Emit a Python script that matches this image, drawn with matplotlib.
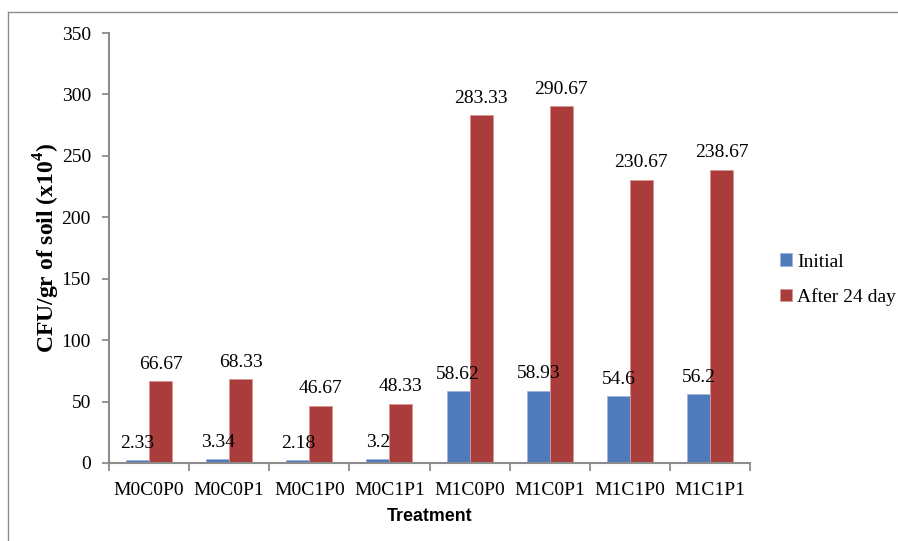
import numpy as np
import matplotlib
matplotlib.use("Agg")
import matplotlib.pyplot as plt
from matplotlib.lines import Line2D

treatments = ["M0C0P0", "M0C0P1", "M0C1P0", "M0C1P1", "M1C0P0", "M1C0P1", "M1C1P0", "M1C1P1"]
initial = [2.33, 3.34, 2.18, 3.2, 58.62, 58.93, 54.6, 56.2]
after_24 = [66.67, 68.33, 46.67, 48.33, 283.33, 290.67, 230.67, 238.67]
y_ticks = [0, 50, 100, 150, 200, 250, 300, 350]

plt.rcParams["font.family"] = ["Liberation Serif", "DejaVu Serif"]
plt.rcParams["mathtext.fontset"] = "custom"
plt.rcParams["mathtext.rm"] = "Liberation Serif:bold"
plt.rcParams["mathtext.bf"] = "Liberation Serif:bold"

BLUE = "#4F7BBA"
RED = "#AA3C3B"
GREY = "#8C8C8C"


def plot_chart():

    fig = plt.figure(figsize=(8.98, 5.41), dpi=100)
    ax = fig.add_axes([0.1214, 0.1442, 0.7138, 0.7948])

    x = np.arange(len(treatments))
    w = 0.287

    b1 = ax.bar(x - w / 2, initial, w, color=BLUE, edgecolor="#9DB5DA", linewidth=0.6, label="Initial")
    b2 = ax.bar(x + w / 2, after_24, w, color=RED, edgecolor="#D99694", linewidth=0.6, label="After 24 day")

    for bars, vals in [(b1, initial), (b2, after_24)]:
        for rect, v in zip(bars, vals):
            ax.annotate(f"{v:g}", (rect.get_x() + rect.get_width() / 2, rect.get_height()),
                        xytext=(0, 6), textcoords="offset points",
                        ha="center", va="bottom", fontsize=14)

    ax.set_xlim(-0.5, len(treatments) - 0.5)
    ax.set_ylim(0, 350)
    ax.set_yticks(y_ticks)
    ax.tick_params(axis="y", labelsize=14, length=5, width=1.3, color=GREY, pad=8)

    ax.set_xticks(x)
    ax.set_xticklabels(treatments, fontsize=14)
    ax.set_xticks(np.arange(-0.5, len(treatments)), minor=True)
    ax.tick_params(axis="x", which="major", length=0, pad=14)
    ax.tick_params(axis="x", which="minor", length=6, width=1.3, color=GREY)

    for s in ["top", "right"]:
        ax.spines[s].set_visible(False)
    for s in ["left", "bottom"]:
        ax.spines[s].set_color(GREY)
        ax.spines[s].set_linewidth(1.5)

    ax.set_ylabel(r"CFU/gr of soil (x10$^{\mathbf{4}}$)", fontsize=17, fontweight="bold", labelpad=0)
    ax.set_xlabel("Treatment", fontsize=12.8, fontweight="bold", family="Liberation Sans", labelpad=6)

    fig.legend(loc="center left", bbox_to_anchor=(0.849, 0.483), frameon=False, fontsize=14,
               handlelength=0.6, handleheight=0.6, handletextpad=0.3, labelspacing=0.9)

    # outer frame of the original figure
    fig.add_artist(Line2D([8 / 898, 8 / 898], [0, 1 - 12 / 541], color=GREY, linewidth=1.0))
    fig.add_artist(Line2D([8 / 898, 1], [1 - 12 / 541, 1 - 12 / 541], color=GREY, linewidth=1.0))

    fig.savefig("out.png", dpi=100)
    plt.close(fig)


plot_chart()
